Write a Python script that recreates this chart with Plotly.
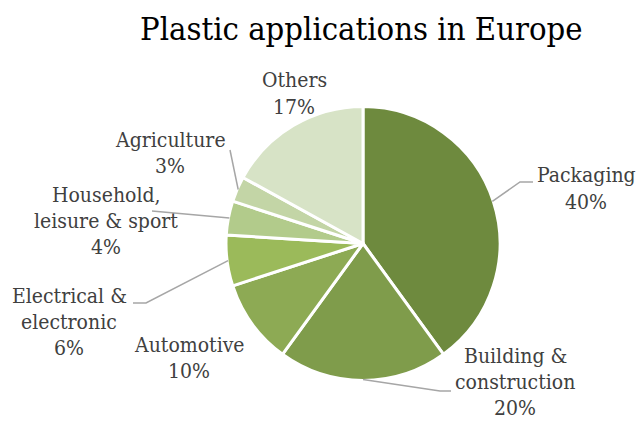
import math
import plotly.graph_objects as go

# ---- data ----
categories = ["Packaging", "Building & construction", "Automotive",
              "Electrical & electronic", "Household, leisure & sport",
              "Agriculture", "Others"]
shares = [40, 20, 10, 6, 4, 3, 17]
label_lines = [["Packaging"], ["Building &", "construction"], ["Automotive"],
               ["Electrical &", "electronic"], ["Household,", "leisure & sport"],
               ["Agriculture"], ["Others"]]
title_text = "Plastic applications in Europe"

# ---- styles / layout ----
colors = ["#6E8A3E", "#7F9C4B", "#8DAA54", "#9BBA5A", "#B2CB8B", "#C3D5A6", "#D7E3C6"]
W, H = 639, 421
CX, CY, R = 363, 243.5, 137
FONT = "DejaVu Serif Condensed"
LBL_SIZE = 21
LINE_H = 26.3
label_pos = [(586, 183), (515, 363), (189, 352), (69, 303), (106, 202), (170, 147), (294, 88)]
leaders = [[(520, 182), (533, 182)], [(440, 391), (451, 391)], None,
           [(146, 303), (133, 303)], [(152, 211)], [(230, 150)], None]


def px(x, y):
    return x / W, 1 - y / H


fig = go.Figure(go.Pie(
    values=shares, labels=categories, sort=False, direction="clockwise",
    rotation=0, textinfo="none", hoverinfo="label+percent",
    marker=dict(colors=colors, line=dict(color="white", width=3)),
    domain=dict(x=[(CX - R) / W, (CX + R) / W], y=[1 - (CY + R) / H, 1 - (CY - R) / H]),
    showlegend=False,
))

annotations = []
shapes = []
total = sum(shares)
cum = 0
for i, (cat, v) in enumerate(zip(categories, shares)):
    mid = (cum + v / 2) / total * 2 * math.pi
    cum += v
    lines = label_lines[i] + [f"{v}%"]
    lx, by = label_pos[i]
    for k, t in enumerate(lines):
        x, y = px(lx, by + k * LINE_H - 7.5)
        annotations.append(dict(x=x, y=y, xref="paper", yref="paper", text=t,
                                showarrow=False, xanchor="center", yanchor="middle",
                                borderpad=0,
                                font=dict(family=FONT, size=LBL_SIZE, color="#404040")))
    if leaders[i]:
        sx = CX + (R - 1) * math.sin(mid)
        sy = CY - (R - 1) * math.cos(mid)
        pts = [(sx, sy)] + leaders[i]
        path = "M " + " L ".join(f"{px(a, b)[0]:.5f},{px(a, b)[1]:.5f}" for a, b in pts)
        shapes.append(dict(type="path", path=path, xref="paper", yref="paper",
                           line=dict(color="#A6A6A6", width=1.5)))

tx, ty = px(361.5, 40 - 11.5)
annotations.append(dict(x=tx, y=ty, xref="paper", yref="paper", text=title_text,
                        showarrow=False, xanchor="center", yanchor="middle",
                        font=dict(family=FONT, size=32.5, color="#000000")))

fig.update_layout(width=W, height=H, margin=dict(l=0, r=0, t=0, b=0),
                  paper_bgcolor="white", plot_bgcolor="white",
                  annotations=annotations, shapes=shapes)
fig.write_html("out.html")
